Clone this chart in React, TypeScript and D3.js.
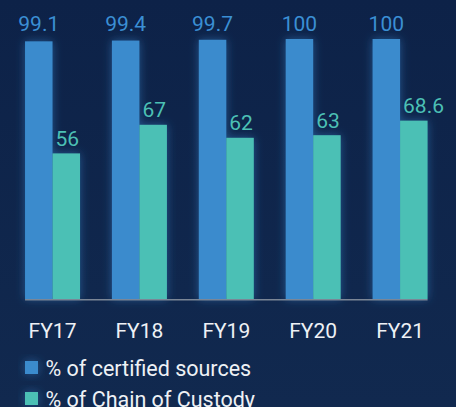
import React from 'react';
import * as d3 from 'd3';

// chart data
const years = ['FY17', 'FY18', 'FY19', 'FY20', 'FY21'];
const certified = [99.1, 99.4, 99.7, 100, 100];
const custody = [56, 67, 62, 63, 68.6];
const certifiedLabels = ['99.1', '99.4', '99.7', '100', '100'];
const custodyLabels = ['56', '67', '62', '63', '68.6'];
const seriesNames = ['% of certified sources', '% of Chain of Custody'];

const WIDTH = 456;
const HEIGHT = 407;
const BLUE = '#3a8bcd';
const GREEN = '#4cc0b5';
const FONT = 'Roboto, "Noto Sans", sans-serif';

const x = d3.scaleBand<string>()
    .domain(years)
    .range([9.3, 443.3])
    .paddingInner(0.365)
    .paddingOuter(0.18);

const y = d3.scaleLinear()
    .domain([0, 100])
    .range([299, 39]);

export default function App() {
    const bw = 27.5; // width of one bar
    const left = (d: string) => (x(d) as number) + x.bandwidth() / 2 - bw;
    const center = (d: string) => (x(d) as number) + x.bandwidth() / 2;

    return (
        <div style={{ position: 'fixed', left: 0, top: 0 }}>
            <svg width={WIDTH} height={HEIGHT} style={{ display: 'block' }}>
                <defs>
                    <linearGradient id="bg" x1="0" y1="0" x2="0" y2="1">
                        <stop offset="0" stopColor="#0d2248" />
                        <stop offset="1" stopColor="#11294f" />
                    </linearGradient>
                    <filter id="glow" x="-50%" y="-50%" width="200%" height="200%">
                        <feGaussianBlur in="SourceAlpha" stdDeviation="5" result="blur" />
                        <feFlood floodColor="#3a8bd5" floodOpacity="0.5" />
                        <feComposite in2="blur" operator="in" result="shadow" />
                        <feMerge>
                            <feMergeNode in="shadow" />
                            <feMergeNode in="SourceGraphic" />
                        </feMerge>
                    </filter>
                </defs>
                <rect width={WIDTH} height={HEIGHT} fill="url(#bg)" />

                {/* bars */}
                <g filter="url(#glow)">
                    {years.map((d, i) => (
                        <g key={d}>
                            <rect x={left(d)} y={y(certified[i])} width={bw} height={y(0) - y(certified[i])} fill={BLUE} />
                            <rect x={left(d) + bw} y={y(custody[i])} width={bw} height={y(0) - y(custody[i])} fill={GREEN} />
                        </g>
                    ))}
                </g>

                {/* axis line */}
                <line x1={left(years[0])} x2={left(years[4]) + bw * 2} y1={299.75} y2={299.75}
                    stroke="#7b8696" strokeWidth={1.5} />

                {/* value labels */}
                <g fontFamily={FONT} fontSize={21}>
                    {years.map((d, i) => (
                        <g key={d}>
                            <text x={left(d) + bw / 2} y={31} textAnchor="middle" fill="#3b8fd4">{certifiedLabels[i]}</text>
                            <text x={left(d) + bw + 3} y={y(custody[i]) - 7.5} fill={GREEN}>{custodyLabels[i]}</text>
                        </g>
                    ))}
                </g>

                {/* x labels */}
                <g fontFamily={FONT} fontSize={21} fill="#eef1f5">
                    {years.map(d => (
                        <text key={d} x={center(d)} y={338.3} textAnchor="middle">{d}</text>
                    ))}
                </g>

                {/* legend */}
                <g fontFamily={FONT} fontSize={21.5} fill="#eef1f5">
                    {seriesNames.map((s, i) => (
                        <g key={s} transform={`translate(25,${361 + i * 31})`}>
                            <rect width={13} height={13} fill={i === 0 ? BLUE : GREEN} filter="url(#glow)" />
                            <text x={20.5} y={14.8}>{s}</text>
                        </g>
                    ))}
                </g>
            </svg>
        </div>
    );
}
